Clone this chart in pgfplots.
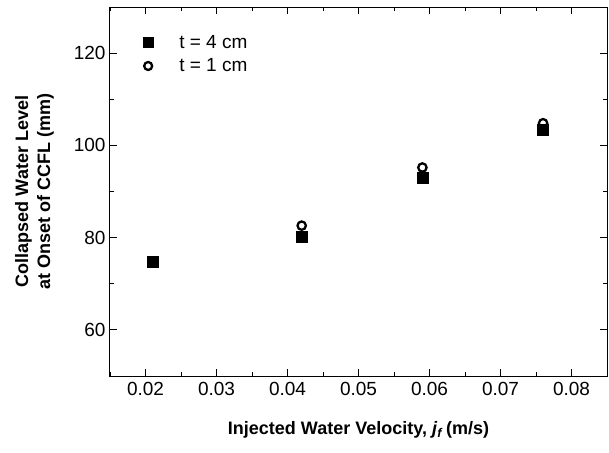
\documentclass[border=0pt]{standalone}
\usepackage{fontspec}
\setmainfont{Liberation Sans}
\usepackage{pgfplots}
\pgfplotsset{compat=1.18}
\begin{document}
\begin{tikzpicture}[x=1pt,y=1pt]
\begin{axis}[
  name=ax,
  at={(0,0)}, anchor=south west,
  scale only axis,
  width=497pt, height=369pt,
  xmin=0.015, xmax=0.085,
  ymin=50, ymax=130,
  xtick={0.02,0.03,0.04,0.05,0.06,0.07,0.08},
  xticklabels={0.02,0.03,0.04,0.05,0.06,0.07,0.08},
  ytick={60,80,100,120},
  minor xtick={0.015,0.025,0.035,0.045,0.055,0.065,0.075,0.085},
  minor ytick={50,70,90,110,130},
  tick align=inside,
  major tick length=7pt,
  minor tick length=4pt,
  every tick/.style={black, line width=0.9pt},
  axis line style={line width=1pt},
  /pgf/number format/assume math mode=true,
  tick label style={font=\fontsize{19}{22}\selectfont},
  xticklabel style={yshift=-3pt},
  yticklabel style={xshift=-1pt},
  scaled x ticks=false,
  xlabel={\bfseries Injected Water Velocity, \textit{j}\textsubscript{\textit{f}}\,(m/s)},
  ylabel={\bfseries\begin{tabular}{@{}c@{}}Collapsed Water Level\\[1pt]at Onset of CCFL (mm)\end{tabular}},
  label style={font=\fontsize{18}{21}\selectfont},
  xlabel style={at={(axis description cs:0.5,0)}, anchor=base, yshift=-58pt},
  ylabel style={at={(axis description cs:-0.151,0.5)}, anchor=center},
  legend style={draw=none, fill=none, at={(axis description cs:0.064,0.927)}, anchor=north west,
    font=\fontsize{19}{22}\selectfont, row sep=7pt, inner sep=0pt,
    nodes={inner sep=1pt}},
  legend cell align=left,
  clip=false,
]
\addplot[only marks, mark=square*, mark size=5.5pt, black,
  legend image code/.code={\path (-5pt,0) (29pt,0); \draw[black, fill=black] (-4.8pt,-4.8pt) rectangle (4.8pt,4.8pt);}]
  coordinates {
  (0.021,74.8) (0.042,80.2) (0.059,93.0) (0.076,103.5)
};
\addlegendentry{t = 4 cm}
\addplot[only marks, mark=o, mark size=4.2pt, black, line width=2.3pt, mark options={fill=white},
  legend image code/.code={\path (-5pt,0) (29pt,0); \draw[black, line width=2.3pt] (0,0) circle (4pt);}]
  coordinates {
  (0.042,82.6) (0.059,95.2) (0.076,104.8)
};
\addlegendentry{t = 1 cm}
\end{axis}
\pgfresetboundingbox
\path (-110,-76) rectangle (499,376);
\end{tikzpicture}
\end{document}
